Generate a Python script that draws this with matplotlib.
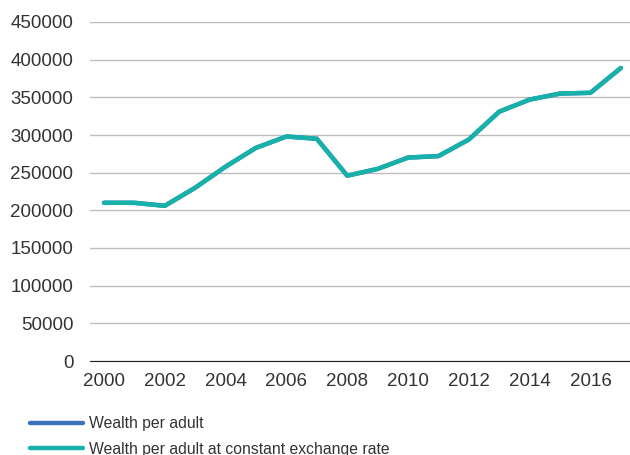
import matplotlib.pyplot as plt

years = list(range(2000, 2018))
wealth = [210000, 210000, 206000, 230000, 258000, 283000, 298000, 295000, 246000,
          255000, 270000, 272000, 294000, 331000, 347000, 355000, 356000, 389000]
wealth_const = [210000, 210000, 206000, 230000, 258000, 283000, 298000, 295000, 246000,
                255000, 270000, 272000, 294000, 331000, 347000, 355000, 356000, 389000]
xticks = list(range(2000, 2017, 2))
yticks = list(range(0, 450001, 50000))

plt.rcParams['font.family'] = ['Liberation Sans', 'DejaVu Sans']

fig = plt.figure(figsize=(6.3, 4.55), dpi=100)
ax = fig.add_axes([90 / 630, 1 - 361 / 455, 540 / 630, 339 / 455])

ax.plot(years, wealth, color='#3a72c0', lw=3.2, label='Wealth per adult', solid_capstyle='round')
ax.plot(years, wealth_const, color='#16b1a8', lw=3.2,
        label='Wealth per adult at constant exchange rate', solid_capstyle='round')

ax.set_xlim(1999.54, 2017.3)
ax.set_ylim(0, 450000)
ax.set_xticks(xticks)
ax.set_yticks(yticks)
ax.set_xticklabels([str(y) for y in xticks])
ax.set_yticklabels([str(v) for v in yticks])
ax.grid(axis='y', color='#bdbdbd', lw=1)
ax.set_axisbelow(True)
for s in ['top', 'right', 'left']:
    ax.spines[s].set_visible(False)
ax.spines['bottom'].set_color('#222222')
ax.tick_params(axis='both', length=0, labelsize=13.5, colors='#333333')
ax.tick_params(axis='y', pad=12)
ax.tick_params(axis='x', pad=9)

fig.legend(loc='upper left', bbox_to_anchor=(30 / 630, 1 - 416 / 455), frameon=False,
           fontsize=11.3, handlelength=3.4, handletextpad=0.35, labelspacing=0.67,
           labelcolor='#333333', borderaxespad=0, borderpad=0)

fig.savefig('out.png', dpi=100)
